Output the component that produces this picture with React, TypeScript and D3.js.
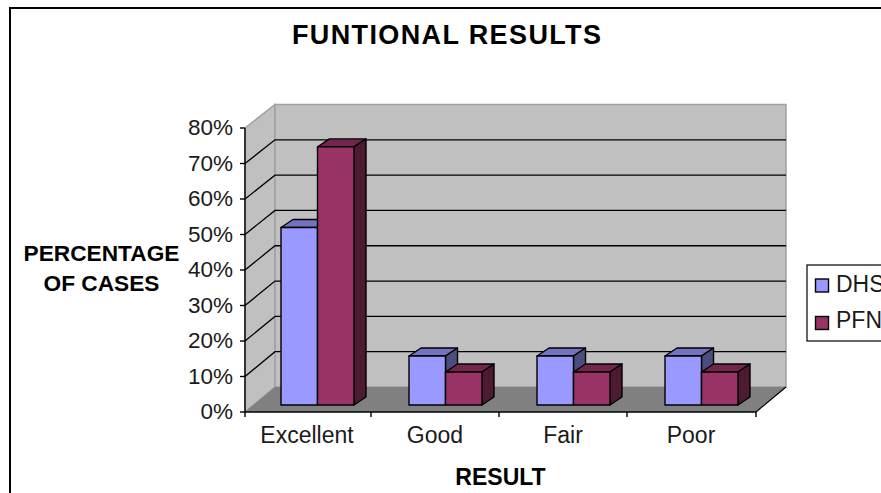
import React from "react";
import * as d3 from "d3";

const categories = ["Excellent", "Good", "Fair", "Poor"];
const seriesNames = ["DHS", "PFN"];
const dhs = [50, 13.8, 13.8, 13.8];
const pfn = [72.7, 9.3, 9.3, 9.3];
const yTicks = [0, 10, 20, 30, 40, 50, 60, 70, 80];
const colors = [
  { front: "#9999ff", top: "#7373bf", side: "#4d4d80" },
  { front: "#993366", top: "#73264d", side: "#4d1933" },
];

const FONT = "'Liberation Sans', Arial, sans-serif";

export default function App() {
  const x = d3.scaleBand().domain(categories).range([243, 755]);
  const y = d3.scaleLinear().domain([0, 80]).range([412, 128]);
  const yWall = d3.scaleLinear().domain([0, 80]).range([387, 104.5]);
  const wallDx = 30;
  const barOffY = -7;
  const barDx = 12, barDy = -8;
  const barW = 36.5;
  const inset = 38;
  const x0 = 245, x1 = 756, y0 = y(0), yT = y(80);
  const pts = (a: number[][]) => a.map((p) => p.join(",")).join(" ");

  const bar = (c: string, s: number, v: number) => {
    const l = (x(c) as number) + inset + s * barW;
    const r = l + barW;
    const b = y(0) + barOffY;
    const t = y(v) + barOffY;
    const col = colors[s];
    return (
      <g key={c + s} stroke="#000" strokeWidth={1.4} strokeLinejoin="round">
        <polygon points={pts([[l, t], [l + barDx, t + barDy], [r + barDx, t + barDy], [r, t]])} fill={col.top} />
        <polygon points={pts([[r, t], [r + barDx, t + barDy], [r + barDx, b + barDy], [r, b]])} fill={col.side} />
        <rect x={l} y={t} width={barW} height={b - t} fill={col.front} />
      </g>
    );
  };

  return (
    <svg width={881} height={493} style={{ position: "absolute", left: 0, top: 0, background: "#fff" }} fontFamily={FONT}>
      <path d="M10,493V8H881" fill="none" stroke="#000" strokeWidth={2} />
      <text x={446.5} y={44} textAnchor="middle" fontSize={27} fontWeight="bold" fill="#000" textLength={309}>FUNTIONAL RESULTS</text>

      {/* walls */}
      <polygon points={pts([[x0, yT], [x0 + wallDx, yWall(80)], [x0 + wallDx, yWall(0)], [x0, y0]])} fill="#c0c0c0" stroke="#a0a0a0" strokeWidth={1.5} />
      <rect x={x0 + wallDx} y={yWall(80)} width={x1 - x0} height={yWall(0) - yWall(80)} fill="#c0c0c0" stroke="#a0a0a0" strokeWidth={1.5} />
      <polygon points={pts([[x0, y0], [x0 + wallDx, yWall(0)], [x1 + wallDx, yWall(0)], [x1, y0]])} fill="#808080" />

      {yTicks.filter((t) => t > 0 && t < 80).map((t) => (
        <polyline key={t} stroke="#000" strokeWidth={1.3} fill="none"
          points={pts([[x0, y(t)], [x0 + wallDx, yWall(t)], [x1 + wallDx, yWall(t)]])} />
      ))}

      {/* axes */}
      <line x1={x0} x2={x0} y1={yT} y2={y0} stroke="#000" strokeWidth={1.4} />
      <line x1={x0} x2={x1} y1={y0} y2={y0} stroke="#000" strokeWidth={1.6} />
      <line x1={x1} x2={x1 + wallDx} y1={y0} y2={yWall(0)} stroke="#000" strokeWidth={1.2} />
      {yTicks.map((t) => (
        <g key={t}>
          <line x1={x0 - 5} x2={x0} y1={y(t)} y2={y(t)} stroke="#000" strokeWidth={1.4} />
          <text x={233} y={y(t) + 7} textAnchor="end" fontSize={22.5} fill="#1a1a1a">{t}%</text>
        </g>
      ))}
      {[x0, ...categories.slice(1).map((c) => x(c) as number), x1].map((v, i) => (
        <line key={i} x1={v} x2={v} y1={y0} y2={y0 + 5} stroke="#000" strokeWidth={1.4} />
      ))}

      {/* bars */}
      {categories.map((c, i) => (
        <g key={c}>
          {bar(c, 0, dhs[i])}
          {bar(c, 1, pfn[i])}
        </g>
      ))}

      {categories.map((c) => (
        <text key={c} x={(x(c) as number) + 64} y={443} textAnchor="middle" fontSize={23} fill="#1a1a1a">{c}</text>
      ))}

      <text x={101.5} y={261} textAnchor="middle" fontSize={22.7} fontWeight="bold" fill="#000">PERCENTAGE</text>
      <text x={101.5} y={291} textAnchor="middle" fontSize={22.7} fontWeight="bold" fill="#000">OF CASES</text>
      <text x={500.5} y={485} textAnchor="middle" fontSize={23} fontWeight="bold" fill="#000">RESULT</text>

      {/* legend */}
      <rect x={807} y={265} width={90} height={76} fill="#fff" stroke="#000" strokeWidth={1.2} />
      {seriesNames.map((n, i) => (
        <g key={n}>
          <rect x={815.5} y={279 + i * 37.5} width={13} height={13} fill={colors[i].front} stroke="#000" strokeWidth={1.4} />
          <text x={836} y={291.5 + i * 36.5} fontSize={23} fill="#1a1a1a">{n}</text>
        </g>
      ))}
    </svg>
  );
}
